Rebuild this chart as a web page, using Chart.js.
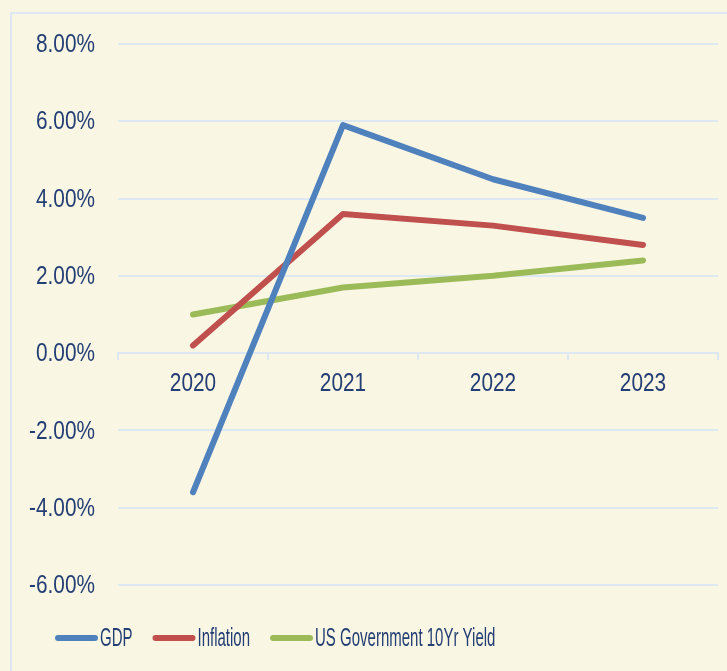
<!DOCTYPE html>
<html>
<head>
<meta charset="utf-8">
<script src="https://cdn.jsdelivr.net/npm/chart.js@4"></script>
<style>
  html, body { margin: 0; padding: 0; background: #faf6e4; overflow: hidden; }
  #frame { position: absolute; left: 10px; top: 12px; width: 800px; height: 800px; border: 2px solid #dde8f3; }
  #wrap { position: absolute; left: 0; top: 0; width: 727px; height: 671px; }
</style>
</head>
<body>
<div id="frame"></div>
<div id="wrap"><canvas id="chart"></canvas></div>
<script>
// ===== Data =====
const years = ['2020', '2021', '2022', '2023'];
const gdp = [-3.6, 5.9, 4.5, 3.5];
const inflation = [0.2, 3.6, 3.3, 2.8];
const yield10 = [1.0, 1.7, 2.0, 2.4];
const seriesNames = ['GDP', 'Inflation', 'US Government 10Yr Yield'];
const seriesColors = ['#4f81bd', '#c0504d', '#9bbb59'];

const textColor = '#233e74';
const gridColor = '#dde8f3';
const fontFamily = '"Liberation Sans", Arial, sans-serif';

// draw text squeezed horizontally (the original uses a narrow face)
function narrowText(ctx, text, x, y, squeeze) {
  ctx.save();
  ctx.translate(x, y);
  ctx.scale(squeeze, 1);
  ctx.fillText(text, 0, 0);
  ctx.restore();
}

// ===== Tick labels, placed from the chart's scales =====
const narrowTicks = {
  id: 'narrowTicks',
  afterDraw(chart) {
    const ctx = chart.ctx;
    const xs = chart.scales.x, ys = chart.scales.y;
    ctx.save();
    ctx.font = '26px ' + fontFamily;
    ctx.fillStyle = textColor;
    ctx.textBaseline = 'middle';

    ctx.textAlign = 'right';
    ys.ticks.forEach(t => {
      narrowText(ctx, t.value.toFixed(2) + '%', 95, ys.getPixelForValue(t.value) + 1, 0.8);
    });

    ctx.textAlign = 'center';
    xs.ticks.forEach((t, i) => {
      narrowText(ctx, years[i], xs.getPixelForTick(i), ys.getPixelForValue(0) + 31, 0.8);
    });
    ctx.restore();
  }
};

// ===== Legend drawn by hand (line sample + squeezed label) =====
const lineLegend = {
  id: 'lineLegend',
  afterDraw(chart) {
    const ctx = chart.ctx;
    const y = 638;
    let x = 55;
    ctx.save();
    ctx.font = '25px ' + fontFamily;
    ctx.textBaseline = 'middle';
    chart.data.datasets.forEach(ds => {
      ctx.strokeStyle = ds.borderColor;
      ctx.lineWidth = 6;
      ctx.lineCap = 'round';
      ctx.beginPath();
      ctx.moveTo(x + 3, y);
      ctx.lineTo(x + 40, y);
      ctx.stroke();
      x += 45;
      const w = ctx.measureText(ds.label).width * 0.6;
      ctx.fillStyle = textColor;
      narrowText(ctx, ds.label, x, y + 1, 0.6);
      x += w + 20;
    });
    ctx.restore();
  }
};

function makeSet(i, values) {
  return {
    label: seriesNames[i],
    data: values,
    borderColor: seriesColors[i],
    backgroundColor: seriesColors[i],
    borderWidth: 6,
    borderCapStyle: 'round',
    borderJoinStyle: 'round',
    pointRadius: 0,
    tension: 0
  };
}

new Chart(document.getElementById('chart'), {
  type: 'line',
  data: {
    labels: years,
    datasets: [makeSet(0, gdp), makeSet(1, inflation), makeSet(2, yield10)]
  },
  options: {
    responsive: true,
    maintainAspectRatio: false,
    animation: false,
    layout: { padding: { left: 0, right: 9, top: 44, bottom: 86 } },
    plugins: {
      legend: { display: false },
      tooltip: { enabled: false }
    },
    scales: {
      x: {
        position: { y: 0 },
        offset: true,
        grid: {
          offset: true,
          drawOnChartArea: false,
          drawTicks: true,
          tickLength: 6,
          color: gridColor,
          lineWidth: 2
        },
        border: { color: gridColor, width: 2 },
        ticks: { display: false }
      },
      y: {
        min: -6,
        max: 8,
        afterFit(scale) { scale.width = 118; },
        grid: { color: gridColor, lineWidth: 2, drawTicks: false },
        border: { display: false },
        ticks: { stepSize: 2, display: false }
      }
    }
  },
  plugins: [narrowTicks, lineLegend]
});
</script>
</body>
</html>
